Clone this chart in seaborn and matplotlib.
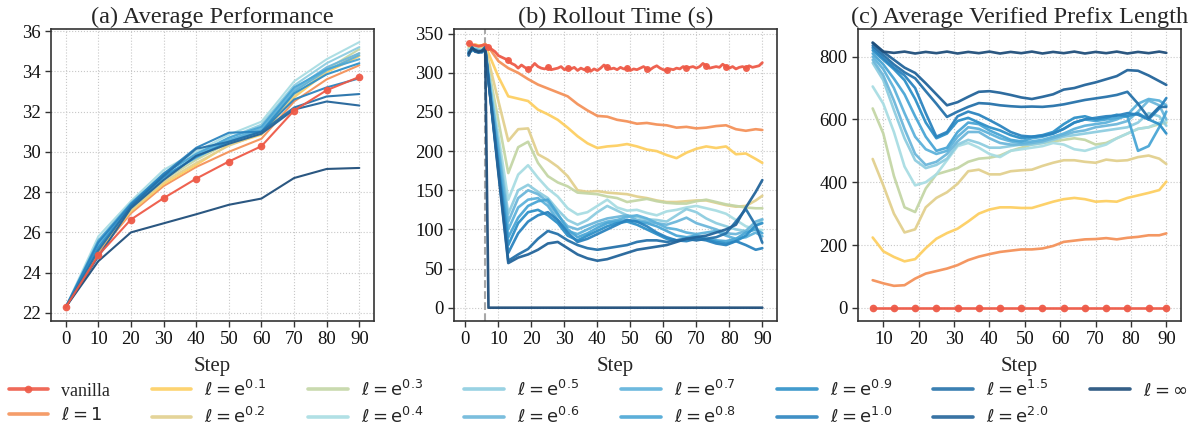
import matplotlib
matplotlib.use("Agg")
import matplotlib.pyplot as plt
import seaborn as sns
import pandas as pd

# ---------------- labels & colours ----------------
series_labels = ['vanilla', r'$\ell = 1$', r'$\ell = \mathrm{e}^{0.1}$', r'$\ell = \mathrm{e}^{0.2}$',
                 r'$\ell = \mathrm{e}^{0.3}$', r'$\ell = \mathrm{e}^{0.4}$', r'$\ell = \mathrm{e}^{0.5}$',
                 r'$\ell = \mathrm{e}^{0.6}$', r'$\ell = \mathrm{e}^{0.7}$', r'$\ell = \mathrm{e}^{0.8}$',
                 r'$\ell = \mathrm{e}^{0.9}$', r'$\ell = \mathrm{e}^{1.0}$', r'$\ell = \mathrm{e}^{1.5}$',
                 r'$\ell = \mathrm{e}^{2.0}$', r'$\ell = \infty$']
series_colors = ['#ee5a47', '#f4925a', '#fdcf62', '#e2d08e', '#c4d6a6', '#a9dde3', '#8ecde0',
                 '#6db7da', '#5eb2db', '#4aa6d5', '#2e90c8', '#2b84bf', '#2672aa', '#23649a', '#1f4e7a']

# ---------------- (a) Average Performance ----------------
steps_a = [0, 10, 20, 30, 40, 50, 60, 70, 80, 90]
perf_vanilla = [22.28, 24.86, 26.64, 27.70, 28.67, 29.52, 30.28, 32.05, 33.06, 33.72]
perf_l1 = [22.28, 25.0, 26.95, 28.3, 29.25, 30.0, 30.65, 32.5, 33.6, 34.3]
perf_e01 = [22.28, 25.1, 27.05, 28.4, 29.35, 30.35, 30.85, 32.7, 33.95, 34.75]
perf_e02 = [22.28, 25.2, 27.1, 28.5, 29.45, 30.3, 30.9, 32.8, 34.0, 34.9]
perf_e03 = [22.28, 25.3, 27.2, 28.6, 29.6, 30.45, 31.05, 33.0, 34.1, 35.1]
perf_e04 = [22.28, 25.8, 27.55, 29.1, 30.0, 30.85, 31.5, 33.5, 34.6, 35.45]
perf_e05 = [22.28, 25.5, 27.4, 28.95, 29.85, 30.7, 31.35, 33.3, 34.4, 35.2]
perf_e06 = [22.28, 25.4, 27.35, 28.8, 29.7, 30.55, 31.2, 33.1, 34.2, 34.9]
perf_e07 = [22.28, 25.35, 27.3, 28.7, 29.8, 30.6, 31.1, 33.0, 34.05, 34.8]
perf_e08 = [22.28, 25.6, 27.45, 28.9, 29.9, 30.7, 31.25, 33.2, 34.1, 34.6]
perf_e09 = [22.28, 25.25, 27.3, 28.75, 29.75, 30.5, 31.0, 32.9, 33.85, 34.4]
perf_e10 = [22.28, 25.5, 27.4, 28.9, 30.2, 30.95, 31.0, 32.6, 33.2, 33.65]
perf_e15 = [22.28, 25.1, 27.3, 28.8, 30.15, 30.5, 31.0, 32.2, 32.75, 32.87]
perf_e20 = [22.28, 24.8, 27.2, 28.6, 29.8, 30.4, 30.9, 32.1, 32.5, 32.3]
perf_inf = [22.28, 24.57, 26.0, 26.45, 26.9, 27.37, 27.68, 28.7, 29.15, 29.2]

# ---------------- (b) Rollout Time (s) ----------------
steps_vanilla_b = list(range(1, 91))
time_vanilla = [338, 336, 335, 334, 335, 336, 333, 330, 327, 322,
                320, 318, 316, 312, 310, 306, 310, 307, 305, 307,
                312, 308, 306, 305, 307, 304, 305, 306, 308, 304,
                306, 305, 307, 303, 306, 304, 305, 302, 305, 303,
                306, 310, 307, 305, 306, 304, 307, 305, 306, 303,
                305, 304, 306, 308, 305, 304, 307, 309, 306, 304,
                303, 305, 304, 306, 305, 308, 306, 307, 308, 306,
                308, 312, 309, 306, 307, 308, 307, 311, 308, 306,
                308, 305, 307, 308, 306, 309, 307, 308, 309, 313]
steps_b = [1, 2, 3, 4, 5, 6, 7, 10, 13, 16, 19, 22, 25, 28, 31, 34, 37, 40, 43, 46, 49,
           52, 55, 58, 61, 64, 67, 70, 73, 76, 79, 82, 85, 88, 90]
time_l1 = [336, 335, 336, 334, 335, 337, 333, 315, 306, 300, 292, 285, 280, 275, 270, 260,
           252, 245, 244, 240, 238, 235, 236, 234, 233, 230, 231, 229, 230, 232, 233, 228, 226, 228, 227]
time_e01 = [335, 334, 336, 335, 334, 336, 325, 295, 270, 267, 264, 253, 247, 240, 230, 219,
            210, 204, 206, 207, 209, 206, 202, 200, 195, 191, 198, 203, 206, 204, 206, 196, 197, 190, 185]
time_e02 = [333, 332, 334, 333, 332, 334, 316, 264, 213, 228, 229, 196, 189, 180, 168, 150,
            148, 149, 147, 146, 145, 142, 140, 137, 135, 135, 136, 137, 137, 134, 131, 129, 130, 137, 143]
time_e03 = [331, 330, 333, 331, 330, 333, 306, 239, 172, 205, 212, 185, 168, 160, 155, 147,
            146, 145, 142, 140, 135, 137, 139, 136, 134, 133, 133, 136, 138, 135, 132, 130, 128, 127, 127]
time_e04 = [330, 329, 332, 330, 329, 332, 302, 220, 138, 170, 182, 166, 152, 142, 127, 119,
            122, 130, 138, 128, 124, 125, 121, 118, 123, 125, 128, 130, 127, 124, 120, 112, 104, 100, 99]
time_e05 = [329, 328, 331, 329, 328, 331, 299, 210, 120, 150, 157, 148, 140, 125, 112, 106,
            112, 122, 130, 124, 118, 116, 113, 112, 110, 118, 126, 122, 114, 108, 104, 100, 98, 105, 112]
time_e06 = [328, 328, 330, 329, 328, 330, 297, 204, 110, 140, 150, 145, 135, 118, 104, 100,
            105, 110, 114, 116, 118, 112, 110, 108, 106, 110, 115, 108, 104, 100, 95, 94, 98, 110, 113]
time_e07 = [327, 329, 330, 328, 328, 331, 295, 198, 100, 128, 138, 140, 130, 112, 98, 94,
            100, 106, 110, 112, 116, 118, 114, 108, 102, 100, 96, 94, 96, 98, 92, 88, 90, 96, 91]
time_e08 = [326, 330, 329, 328, 327, 330, 293, 190, 90, 115, 130, 136, 138, 120, 100, 90,
            95, 102, 108, 110, 112, 110, 108, 104, 98, 92, 90, 92, 88, 86, 85, 88, 96, 100, 95]
time_e09 = [325, 331, 328, 327, 327, 330, 291, 183, 80, 108, 122, 125, 118, 108, 92, 86,
            92, 98, 104, 108, 110, 106, 100, 94, 88, 86, 88, 90, 87, 84, 82, 85, 92, 105, 108]
time_e10 = [324, 330, 327, 327, 326, 331, 290, 178, 70, 95, 110, 118, 122, 112, 96, 84,
            88, 94, 100, 106, 112, 110, 104, 96, 90, 86, 85, 88, 86, 82, 80, 85, 80, 74, 76]
time_e15 = [323, 332, 328, 326, 327, 332, 290, 175, 60, 68, 75, 88, 98, 94, 86, 80,
            76, 74, 76, 78, 80, 84, 86, 86, 84, 86, 88, 86, 88, 90, 95, 110, 126, 105, 83]
time_e20 = [322, 333, 327, 326, 328, 333, 290, 172, 57, 64, 68, 74, 82, 84, 76, 68,
            63, 60, 62, 66, 70, 74, 76, 78, 80, 84, 88, 90, 92, 96, 100, 106, 128, 148, 163]
time_inf = [325, 331, 329, 327, 328, 330, 0, 0, 0, 0, 0, 0, 0, 0, 0, 0,
            0, 0, 0, 0, 0, 0, 0, 0, 0, 0, 0, 0, 0, 0, 0, 0, 0, 0, 0]
cutoff_step = 6

# ---------------- (c) Average Verified Prefix Length ----------------
steps_c = [7, 10, 13, 16, 19, 22, 25, 28, 31, 34, 37, 40, 43, 46, 49,
           52, 55, 58, 61, 64, 67, 70, 73, 76, 79, 82, 85, 88, 90]
len_vanilla = [0, 0, 0, 0, 0, 0, 0, 0, 0, 0, 0, 0, 0, 0, 0, 0, 0, 0, 0, 0, 0, 0, 0, 0, 0, 0, 0, 0, 0]
len_l1 = [88, 78, 70, 72, 93, 109, 117, 125, 136, 152, 163, 171, 178, 182, 186,
          186, 189, 197, 210, 214, 218, 219, 222, 218, 223, 226, 231, 231, 237]
len_e01 = [224, 180, 162, 148, 155, 190, 220, 238, 252, 275, 300, 313, 320, 320, 318,
           318, 328, 338, 346, 350, 346, 338, 340, 338, 350, 358, 366, 375, 402]
len_e02 = [474, 390, 300, 240, 250, 320, 350, 368, 395, 435, 440, 425, 425, 435, 438,
           440, 452, 462, 470, 470, 465, 462, 472, 468, 470, 480, 485, 475, 458]
len_e03 = [635, 555, 420, 320, 305, 380, 425, 435, 445, 465, 475, 478, 485, 500, 510,
           520, 525, 530, 535, 540, 535, 520, 525, 540, 555, 570, 575, 585, 590]
len_e04 = [705, 650, 560, 450, 390, 400, 425, 470, 515, 525, 510, 490, 480, 500, 505,
           510, 515, 525, 520, 505, 500, 510, 520, 540, 555, 570, 575, 590, 595]
len_e05 = [780, 725, 630, 540, 470, 445, 455, 475, 520, 535, 525, 510, 510, 515, 520,
           520, 525, 535, 545, 550, 555, 560, 565, 570, 575, 590, 620, 610, 580]
len_e06 = [790, 740, 660, 570, 490, 455, 465, 490, 530, 560, 560, 540, 525, 520, 520,
           525, 530, 540, 550, 560, 565, 575, 580, 585, 595, 625, 660, 645, 600]
len_e07 = [800, 760, 700, 620, 545, 505, 490, 500, 545, 575, 570, 555, 540, 530, 525,
           530, 535, 545, 555, 570, 580, 585, 590, 600, 615, 650, 665, 660, 645]
len_e08 = [810, 775, 730, 680, 610, 545, 500, 510, 560, 590, 585, 565, 550, 535, 530,
           540, 545, 555, 570, 590, 600, 595, 600, 605, 610, 500, 515, 575, 625]
len_e09 = [820, 790, 760, 725, 665, 590, 540, 555, 595, 605, 590, 575, 565, 550, 540,
           545, 550, 560, 585, 605, 610, 600, 605, 615, 610, 620, 600, 585, 555]
len_e10 = [828, 795, 765, 740, 700, 620, 545, 560, 610, 625, 615, 598, 580, 560, 548,
           545, 548, 555, 570, 590, 600, 605, 610, 612, 620, 615, 600, 635, 668]
len_e15 = [835, 805, 775, 750, 731, 690, 650, 608, 625, 640, 652, 650, 645, 642, 640,
           641, 640, 643, 648, 655, 662, 667, 672, 678, 688, 650, 605, 640, 640]
len_e20 = [843, 815, 790, 765, 748, 715, 680, 645, 655, 672, 688, 690, 685, 678, 670,
           665, 672, 680, 695, 700, 710, 718, 728, 738, 757, 755, 740, 722, 710]
len_inf = [845, 816, 812, 816, 810, 815, 811, 816, 810, 815, 811, 816, 810, 815, 811,
           816, 810, 815, 811, 816, 810, 815, 811, 816, 810, 815, 811, 816, 812]

perf_all = [perf_vanilla, perf_l1, perf_e01, perf_e02, perf_e03, perf_e04, perf_e05, perf_e06,
            perf_e07, perf_e08, perf_e09, perf_e10, perf_e15, perf_e20, perf_inf]
time_all = [time_vanilla, time_l1, time_e01, time_e02, time_e03, time_e04, time_e05, time_e06,
            time_e07, time_e08, time_e09, time_e10, time_e15, time_e20, time_inf]
len_all = [len_vanilla, len_l1, len_e01, len_e02, len_e03, len_e04, len_e05, len_e06,
           len_e07, len_e08, len_e09, len_e10, len_e15, len_e20, len_inf]

# ---------------- style ----------------
sns.set_style("ticks")
plt.rcParams['font.family'] = ['Liberation Serif', 'DejaVu Sans']
plt.rcParams['mathtext.fontset'] = 'dejavusans'
plt.rcParams['axes.edgecolor'] = '#333333'
plt.rcParams['axes.linewidth'] = 1.2
plt.rcParams['xtick.color'] = '#333333'
plt.rcParams['ytick.color'] = '#333333'
plt.rcParams['xtick.labelcolor'] = '#111111'
plt.rcParams['ytick.labelcolor'] = '#111111'

fig = plt.figure(figsize=(11.96, 4.30), dpi=100)
W, H = 1196.0, 430.0
bottom = 1 - 321 / H
height = (321 - 29) / H
ax_a = fig.add_axes([51 / W, bottom, 323 / W, height])
ax_b = fig.add_axes([454 / W, bottom, 323 / W, height])
ax_c = fig.add_axes([858 / W, bottom, 323 / W, height])

for i, (lab, col) in enumerate(zip(series_labels, series_colors)):
    is_van = (i == 0)
    kw = dict(marker='o', markersize=5.5, markeredgewidth=0) if is_van else {}
    z = 5 if is_van else 2
    sns.lineplot(x=steps_a, y=perf_all[i], ax=ax_a, color=col, lw=1.5, label=lab,
                 zorder=z, alpha=0.95, **kw)
    xb = steps_vanilla_b if is_van else steps_b
    kwb = dict(marker='o', markersize=5, markeredgewidth=0, markevery=6) if is_van else {}
    sns.lineplot(x=xb, y=time_all[i], ax=ax_b, color=col, lw=2.0 if is_van else 1.9,
                 zorder=z, alpha=0.95, legend=False, **kwb)
    kwc = dict(marker='o', markersize=5.5, markeredgewidth=0, markevery=2) if is_van else {}
    sns.lineplot(x=steps_c, y=len_all[i], ax=ax_c, color=col, lw=1.9, zorder=z, alpha=0.95,
                 legend=False, **kwc)

ax_b.axvline(cutoff_step, color='#a8a8a8', ls='--', lw=1.5, zorder=1)

titles = ['(a) Average Performance', '(b) Rollout Time (s)', '(c) Average Verified Prefix Length']
for ax, t in zip([ax_a, ax_b, ax_c], titles):
    ax.set_title(t, fontsize=17.5, pad=4)
    ax.set_xlabel('Step', fontsize=15, labelpad=6)
    ax.set_ylabel('')
    ax.grid(True, linestyle=':', color='#c8c8c8', lw=0.8)
    ax.tick_params(axis='both', labelsize=13.5, length=4.5, width=1.0, pad=3)
    for s in ax.spines.values():
        s.set_visible(True)

ax_a.set_xticks(range(0, 91, 10))
ax_a.set_yticks(range(22, 37, 2))
ax_a.set_xlim(-4.5, 94.5)
ax_a.set_ylim(21.6, 36.1)
ax_b.set_xticks(range(0, 91, 10))
ax_b.set_yticks(range(0, 351, 50))
ax_b.set_xlim(-3.45, 94.45)
ax_b.set_ylim(-17, 356)
ax_c.set_xticks(range(10, 91, 10))
ax_c.set_yticks(range(0, 801, 200))
ax_c.set_xlim(2.85, 94.15)
ax_c.set_ylim(-42, 888)

handles, labels = ax_a.get_legend_handles_labels()
for ax in [ax_a, ax_b, ax_c]:
    if ax.get_legend() is not None:
        ax.get_legend().remove()
leg = fig.legend(handles, labels, loc='upper center', bbox_to_anchor=(0.5, 0.117), ncol=8,
                 frameon=False, fontsize=13, handlelength=2.2, handletextpad=0.72,
                 columnspacing=2.3, labelspacing=0.42, borderaxespad=0, borderpad=0)
for h in leg.legend_handles:
    h.set_linewidth(2.6)
    h.set_alpha(0.9)

fig.savefig('out.png', dpi=100)
